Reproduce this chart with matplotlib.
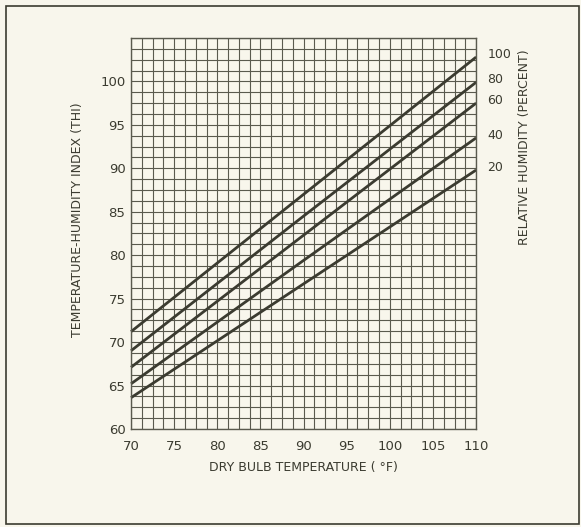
import numpy as np
import matplotlib.pyplot as plt
from matplotlib.patches import Rectangle

# dry bulb temperature (F) where the lines were read
temp = [70, 90, 110]
# THI
rh_labels = ['100', '80', '60', '40', '20']
thi_100 = [71.2, 87.0, 102.8]
thi_80 = [69.0, 84.5, 99.9]
thi_60 = [67.1, 82.3, 97.5]
thi_40 = [65.2, 79.4, 93.5]
thi_20 = [63.6, 76.7, 89.8]

x_ticks = [70, 75, 80, 85, 90, 95, 100, 105, 110]
y_ticks = [60, 65, 70, 75, 80, 85, 90, 95, 100]

bg = '#f8f6ec'
ink = '#3b3b30'
grid_c = '#5a5a4e'

plt.rcParams['font.family'] = ['DejaVu Sans']

fig = plt.figure(figsize=(5.81, 5.27), dpi=100, facecolor=bg)
ax = fig.add_axes([0.2255, 0.186, 0.594, 0.742])
ax.set_facecolor(bg)

ax.set_xlim(70, 110)
ax.set_ylim(60, 105)

# fine grid, 1.25 units per cell
ax.set_xticks(np.arange(70, 110.01, 1.25), minor=True)
ax.set_yticks(np.arange(60, 105.01, 1.25), minor=True)
ax.set_xticks(x_ticks)
ax.set_yticks(y_ticks)
ax.grid(which='both', color=grid_c, lw=0.8)
ax.set_axisbelow(True)
ax.set_xticklabels([str(v) for v in x_ticks], fontsize=9.5, color=ink)
ax.set_yticklabels([str(v) for v in y_ticks], fontsize=9.5, color=ink)
ax.tick_params(which='both', length=0)
ax.tick_params(axis='x', pad=8)
ax.tick_params(axis='y', pad=4)
for s in ax.spines.values():
    s.set_color(grid_c)
    s.set_linewidth(1.0)

series = [thi_100, thi_80, thi_60, thi_40, thi_20]
for lab, vals in zip(rh_labels, series):
    ax.plot(temp, vals, color=ink, lw=2.0, solid_capstyle='butt', clip_on=False)
    ax.annotate(lab, xy=(temp[-1], vals[-1]), xytext=(8, 2),
                textcoords='offset points', va='center', ha='left',
                fontsize=9, color=ink, annotation_clip=False)

ax.set_xlabel('DRY BULB TEMPERATURE ( °F)', fontsize=9, color=ink, labelpad=6)
fig.text(0.133, 0.583, 'TEMPERATURE-HUMIDITY INDEX (THI)', rotation=90,
         ha='center', va='center', fontsize=9, color=ink)
fig.text(0.902, 0.72, 'RELATIVE HUMIDITY (PERCENT)', rotation=90,
         ha='center', va='center', fontsize=9, color=ink)

# outer frame around the figure
fig.patches.append(Rectangle((6 / 581, 3 / 527), 573 / 581, 518 / 527,
                             transform=fig.transFigure, fill=False,
                             edgecolor=ink, lw=1.2))

fig.savefig('out.png', dpi=100, facecolor=bg)
